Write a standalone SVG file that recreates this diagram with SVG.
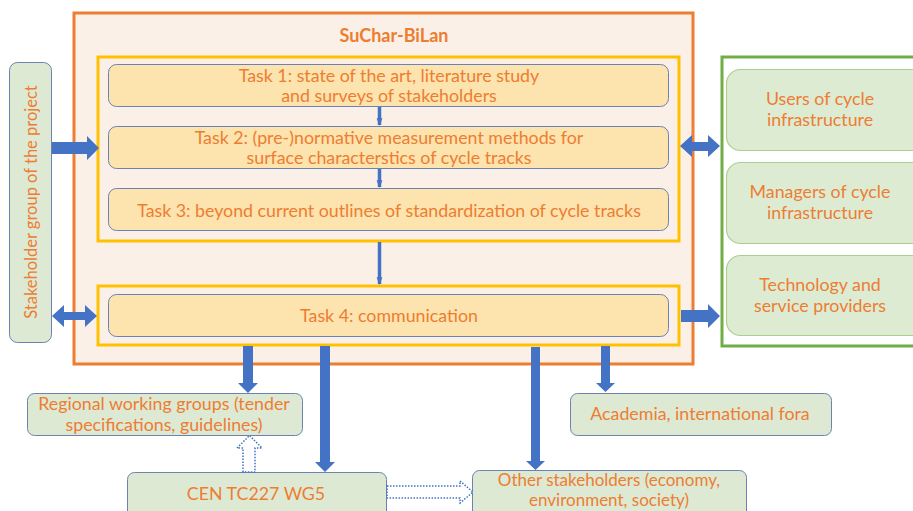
<svg xmlns="http://www.w3.org/2000/svg" width="913" height="511" viewBox="0 0 913 511">
<style>
text{font-family:Lato,"Liberation Sans",sans-serif;fill:#ED7D31;font-size:17.8px;text-anchor:middle}
.task{fill:#FDE3AD;stroke:#6B82B3;stroke-width:1}
.gn{fill:#DDE9D3;stroke:#6B82B3;stroke-width:1}
.gr{fill:#DDEBD3;stroke:#A9D18E;stroke-width:1.2}
.ba{fill:#4472C4;stroke:none}
.dot{fill:#fff;stroke:#4472C4;stroke-width:1.5;stroke-dasharray:1.5 1.5}
.thin{stroke:#4472C4;stroke-width:3.5}
</style>
<defs>
<marker id="ah" viewBox="0 0 8 6" refX="7" refY="3" markerWidth="2.2" markerHeight="1.8" orient="auto" markerUnits="strokeWidth">
<path d="M0,0 L8,3 L0,6 z" fill="#4472C4"/>
</marker>
</defs>
<g id="suchar">
<rect x="74" y="13" width="619" height="351" fill="#FBF0E7" stroke="#ED7D31" stroke-width="3"/>
<text x="394" y="42" style="font-weight:bold;font-size:18px">SuChar-BiLan</text>
</g>
<g id="group-tasks13">
<rect x="98" y="57" width="581" height="184" fill="none" stroke="#FFC000" stroke-width="3"/>
</g>
<g id="group-task4">
<rect x="98" y="286" width="581" height="59" fill="none" stroke="#FFC000" stroke-width="3"/>
</g>
<g id="task1">
<rect class="task" x="108.5" y="64.5" width="560" height="42" rx="8"/>
<text x="389" y="82">Task 1: state of the art, literature study</text>
<text x="389" y="102">and surveys of stakeholders</text>
</g>
<g id="task2">
<rect class="task" x="108.5" y="126.5" width="560" height="42" rx="8"/>
<text x="389" y="144">Task 2: (pre-)normative measurement methods for</text>
<text x="389" y="164">surface characterstics of cycle tracks</text>
</g>
<g id="task3">
<rect class="task" x="108.5" y="188.5" width="560" height="42" rx="8"/>
<text x="389" y="217">Task 3: beyond current outlines of standardization of cycle tracks</text>
</g>
<g id="task4">
<rect class="task" x="108.5" y="294.5" width="560" height="42" rx="8"/>
<text x="389" y="322">Task 4: communication</text>
</g>
<g id="stakeholder-group">
<rect class="gn" x="9.5" y="62.5" width="42" height="280" rx="8"/>
<text transform="translate(37,202) rotate(-90)" style="font-size:16.5px">Stakeholder group of the project</text>
</g>
<g id="external-frame">
<rect x="722" y="57" width="195" height="289" fill="#fff" stroke="#70AD47" stroke-width="3"/>
</g>
<g id="users">
<rect class="gr" x="726.5" y="69.5" width="200" height="81" rx="14"/>
<text x="820" y="105">Users of cycle</text>
<text x="820" y="126">infrastructure</text>
</g>
<g id="managers">
<rect class="gr" x="726.5" y="162.5" width="200" height="81" rx="14"/>
<text x="820" y="198">Managers of cycle</text>
<text x="820" y="219">infrastructure</text>
</g>
<g id="technology">
<rect class="gr" x="726.5" y="255.5" width="200" height="80" rx="14"/>
<text x="820" y="291">Technology and</text>
<text x="820" y="312">service providers</text>
</g>
<g id="regional">
<rect class="gn" x="27.5" y="393.5" width="275" height="42" rx="7"/>
<text x="164" y="410">Regional working groups (tender</text>
<text x="164" y="431">specifications, guidelines)</text>
</g>
<g id="academia">
<rect class="gn" x="570.5" y="393.5" width="261" height="42" rx="7"/>
<text x="700" y="420">Academia, international fora</text>
</g>
<g id="cen">
<rect class="gn" x="127.5" y="472.5" width="259" height="50" rx="7"/>
<text x="256" y="500">CEN TC227 WG5</text>
</g>
<g id="other">
<rect class="gn" x="472.5" y="470.5" width="274" height="50" rx="7"/>
<text x="609" y="486" style="font-size:17px">Other stakeholders (economy,</text>
<text x="609" y="506" style="font-size:17px">environment, society)</text>
</g>
<g id="connectors">
<line class="thin" x1="379.5" y1="107" x2="379.5" y2="125" marker-end="url(#ah)"/>
<line class="thin" x1="379.5" y1="169" x2="379.5" y2="187" marker-end="url(#ah)"/>
<line class="thin" x1="379.5" y1="242" x2="379.5" y2="284" marker-end="url(#ah)"/>
<polygon class="ba" points="52,142 87,142 87,136 99,148 87,160 87,154 52,154"/>
<polygon class="ba" points="52,316 64,305 64,312 85,312 85,305 97,316 85,327 85,320 64,320 64,327"/>
<polygon class="ba" points="680,146 692,135 692,142 708,142 708,135 720,146 708,157 708,151 692,151 692,157"/>
<polygon class="ba" points="681,310 708,310 708,304 720,316 708,328 708,322 681,322"/>
<polygon class="ba" points="243,346 253,346 253,383 258,383 248,393 238,383 243,383"/>
<polygon class="ba" points="320,346 330,346 330,462 335,462 325,472 315,462 320,462"/>
<polygon class="ba" points="531,347 540,347 540,461 545,461 535.5,470 526,461 531,461"/>
<polygon class="ba" points="601,346 610,346 610,383 615,383 605.5,392 596,383 601,383"/>
<polygon class="dot" points="243,472 243,448 237,448 249.5,435.5 262,448 255,448 255,472"/>
<polygon class="dot" points="387,486 460,486 460,481 473,492 460,503 460,498 387,498"/>
</g>
</svg>
